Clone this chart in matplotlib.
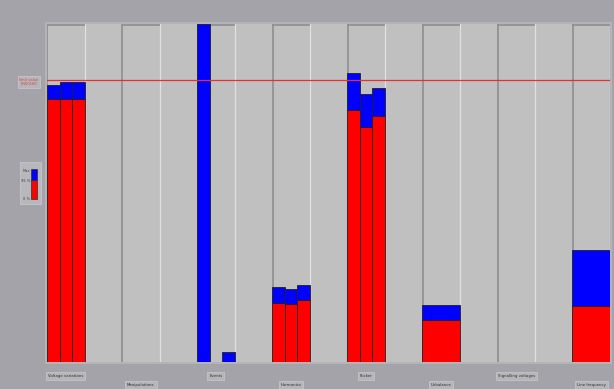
import matplotlib
matplotlib.use("Agg")
import matplotlib.pyplot as plt
from matplotlib.patches import Rectangle

# Quality parameters (values in % of the EN50160 limit)
categories = ["Voltage variations", "Manipulations", "Events", "Harmonics",
              "Flicker", "Unbalance", "Signalling voltages", "Line frequency"]
# 95 % values per phase (None = no data for the parameter)
p95_values = [
    [93.4, 93.4, 93.4],
    None,
    [0.0, 0.0, 0.0],
    [20.9, 20.6, 22.0],
    [89.5, 83.5, 87.3],
    [14.9],
    None,
    [19.9],
]
# Maximum values per phase
max_values = [
    [98.3, 99.4, 99.4],
    None,
    [120.0, 0.0, 3.6],
    [26.6, 25.9, 27.3],
    [102.7, 95.0, 97.2],
    [20.2],
    None,
    [39.8],
]
limit_value = 100.0
y_max = 120.0

BG = "#a3a3a9"
PANEL = "#c0c0c0"
RED = "#ff0000"
BLUE = "#0000ff"

fig = plt.figure(figsize=(6.14, 3.89), dpi=100, facecolor=BG)

# light frame around the plotting area
fig.patches.append(Rectangle((45 / 614, 1 - 364 / 389), 567 / 614, 342 / 389,
                             transform=fig.transFigure, facecolor="#b4b4b8",
                             edgecolor="none", zorder=-10))

ax = fig.add_axes([47 / 614, 1 - 362 / 389, 563 / 614, 338 / 389])
ax.set_zorder(1)
ax.set_facecolor(PANEL)
n = len(categories)
ax.set_xlim(0, 2 * n - 1)
ax.set_ylim(0, y_max)
ax.set_xticks([])
ax.set_yticks([])
for s in ax.spines.values():
    s.set_visible(False)

# sunken panels for each parameter slot
for i in range(n):
    x0 = 2 * i
    ax.axvline(x0 + 0.01, color="#8e8e8e", lw=1.2, zorder=1)
    ax.axvline(x0 + 1, color="#e0e0e0", lw=0.9, zorder=1)
    ax.plot([x0, x0 + 1], [y_max - 0.3, y_max - 0.3], color="#8e8e8e",
            lw=1.2, zorder=1, solid_capstyle="butt")

# stacked bars: red up to 95 %, blue from 95 % up to the maximum
for i, (p95, mx) in enumerate(zip(p95_values, max_values)):
    if p95 is None:
        continue
    k = len(p95)
    w = 1.0 / k
    for j in range(k):
        left = 2 * i + j * w
        if p95[j] > 0:
            ax.bar(left, p95[j], width=w, align="edge", color=RED,
                   edgecolor="#202020", linewidth=0.6, zorder=3)
        if mx[j] > p95[j]:
            ax.bar(left, mx[j] - p95[j], bottom=p95[j], width=w, align="edge",
                   color=BLUE, edgecolor="#202020", linewidth=0.6, zorder=3)

# limit line
ax.axhline(limit_value, color="#e83030", lw=0.9, zorder=4)
fig.text(29 / 614, 1 - 82 / 389, "limit value\nEN50160", fontsize=2.6,
         color="#e04040", ha="center", va="center", linespacing=1.1,
         bbox=dict(boxstyle="square,pad=0.5", facecolor="#b6b6ba",
                   edgecolor="#c4c4c8", linewidth=0.6))

# legend box
fig.patches.append(Rectangle((20 / 614, 1 - 204 / 389), 21 / 614, 42 / 389,
                             transform=fig.transFigure, facecolor="#b8b8bc",
                             edgecolor="#c6c6ca", linewidth=0.6, zorder=2))
fig.patches.append(Rectangle((31 / 614, 1 - 199 / 389), 6 / 614, 19 / 389,
                             transform=fig.transFigure, facecolor=RED,
                             edgecolor="#303030", linewidth=0.5, zorder=3))
fig.patches.append(Rectangle((31 / 614, 1 - 180 / 389), 6 / 614, 11 / 389,
                             transform=fig.transFigure, facecolor=BLUE,
                             edgecolor="#303030", linewidth=0.5, zorder=3))
for ty, t in [(171, "Max"), (181, "95 %"), (199, "0 %")]:
    fig.text(30 / 614, 1 - ty / 389, t, fontsize=2.6, color="#404040",
             ha="right", va="center")

# parameter labels, alternating rows
for i, name in enumerate(categories):
    xc = 47 + (2 * i + 0.5) * 563 / (2 * n - 1)
    yc = 376 if i % 2 == 0 else 385
    fig.text(xc / 614, 1 - yc / 389, name, fontsize=2.8, color="#303030",
             ha="center", va="center",
             bbox=dict(boxstyle="square,pad=0.5", facecolor="#b6b6ba",
                       edgecolor="#c4c4c8", linewidth=0.6))

fig.savefig("out.png", dpi=100, facecolor=BG)
